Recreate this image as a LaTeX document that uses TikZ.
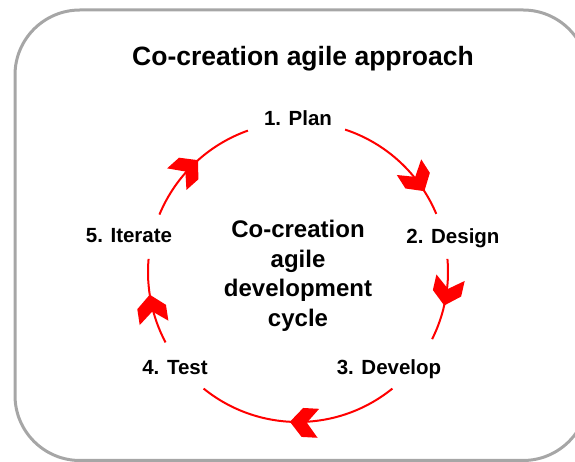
\documentclass[tikz,border=0pt]{standalone}
\usepackage{fontspec}
\setmainfont{Liberation Sans}
\begin{document}
\begin{tikzpicture}[x=1pt,y=1pt,
  lbl/.style={font=\fontsize{20.5}{24}\selectfont\bfseries, anchor=base, inner sep=0pt},
  cyc/.style={draw=red, line width=2pt},
  frame/.style={draw=black!35, line width=3pt, rounded corners=65pt},
  chev/.pic={\fill[red] (0,0) -- (-12.5,14.5) -- (-28.5,14.5) -- (-17,0) -- (-28.5,-14.5) -- (-12.5,-14.5) -- cycle;}
]
\useasboundingbox (0,0) rectangle (575,462);
\begin{scope}
  \clip (0,0) rectangle (575,462);
  \draw[frame] (15,452) rectangle (588,1.5);
\end{scope}
\node[font=\fontsize{26.5}{30}\selectfont\bfseries, anchor=base, inner sep=0pt] (title) at (303,396) {Co-creation agile approach};
\coordinate (C) at (298,190);
\node[lbl] (plan) at (298,336) {1. Plan};
\node[lbl] (design) at (453,218) {2. Design};
\node[lbl] (develop) at (389,87) {3. Develop};
\node[lbl] (test) at (175,87) {4. Test};
\node[lbl] (iterate) at (129,219) {5. Iterate};
\node[font=\fontsize{24}{29.5}\selectfont\bfseries, align=center, inner sep=0pt] (core) at (298,186) {Co-creation\\agile\\development\\cycle};
% arcs
\draw[cyc] (C) ++(71.7:150) arc[start angle=71.7, end angle=22.8, radius=150];
\draw[cyc] (C) ++(5:150) arc[start angle=5, end angle=-26.6, radius=150];
\draw[cyc] (C) ++(-51:150) arc[start angle=-51, end angle=-129, radius=150];
\draw[cyc] (C) ++(-152:150) arc[start angle=-152, end angle=-185, radius=150];
\draw[cyc] (C) ++(157.5:150) arc[start angle=157.5, end angle=109.5, radius=150];
% arrowheads
\path (C) ++(32.6:150) pic[rotate=-57.4] {chev};
\path (C) ++(-12.9:150) pic[rotate=-102.9] {chev};
\path (C) ++(-93.1:150) pic[rotate=-183.1] {chev};
\path (C) ++(-171.3:150) pic[rotate=-261.3] {chev};
\path (C) ++(131.8:150) pic[rotate=41.8] {chev};
\end{tikzpicture}
\end{document}
